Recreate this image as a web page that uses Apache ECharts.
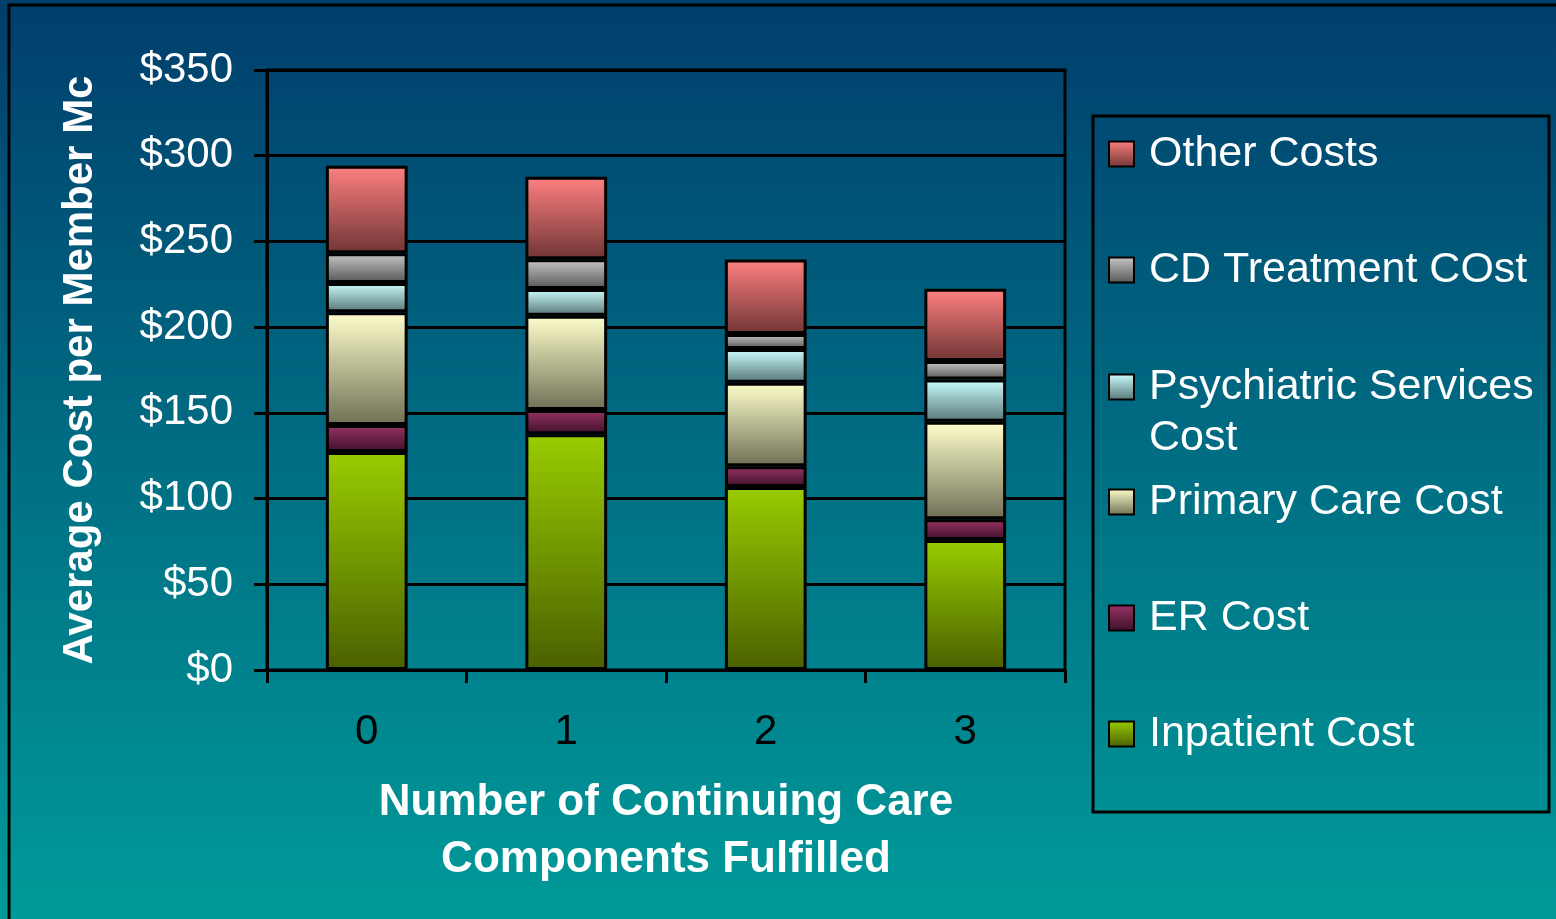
<!DOCTYPE html>
<html>
<head>
<meta charset="utf-8">
<script src="https://cdn.jsdelivr.net/npm/echarts@6/dist/echarts.min.js"></script>
<style>
html,body{margin:0;padding:0;width:1556px;height:919px;overflow:hidden;}
#chart{width:1556px;height:919px;}
</style>
</head>
<body>
<div id="chart"></div>
<script>
// ---- data ----
const categories = ['0', '1', '2', '3'];
const inpatientCost = [127.2, 137.5, 106.7, 75.8];
const erCost = [15.7, 14.1, 12.1, 12.2];
const primaryCareCost = [65.8, 55.1, 48.8, 56.8];
const psychiatricCost = [17.1, 15.6, 19.6, 24.6];
const cdTreatmentCost = [17.3, 17.3, 8.8, 10.8];
const otherCosts = [51.1, 48.1, 43.5, 42.2];
const yMin = 0, yMax = 350, yStep = 50;

// ---- styling ----
const FONT = 'Liberation Sans, Arial, sans-serif';
function grad(top, bottom) {
  return { type: 'linear', x: 0, y: 0, x2: 0, y2: 1,
    colorStops: [{ offset: 0, color: top }, { offset: 1, color: bottom }] };
}
const seriesDefs = [
  { name: 'Inpatient Cost', data: inpatientCost, color: grad('#99cc00', '#4a6000') },
  { name: 'ER Cost', data: erCost, color: grad('#993366', '#3d1028') },
  { name: 'Primary Care Cost', data: primaryCareCost, color: grad('#ffffcc', '#6f6f55') },
  { name: 'Psychiatric Services Cost', data: psychiatricCost, color: grad('#ccffff', '#567575') },
  { name: 'CD Treatment COst', data: cdTreatmentCost, color: grad('#c8c8c8', '#555555') },
  { name: 'Other Costs', data: otherCosts, color: grad('#ff8080', '#703535') }
];

const legendOrder = ['Other Costs', 'CD Treatment COst', 'Psychiatric Services Cost',
  'Primary Care Cost', 'ER Cost', 'Inpatient Cost'];
const legendCenters = [154, 270, 387, 502, 618, 734];
const LH = 51;

const legends = legendOrder.map((name, i) => {
  const multi = name === 'Psychiatric Services Cost';
  return {
    show: true,
    data: [name],
    left: 1108,
    top: multi ? legendCenters[i] - LH * 1.5 : legendCenters[i] - LH / 2,
    padding: 0,
    icon: 'rect',
    itemWidth: 25,
    itemHeight: 25,
    selectedMode: false,
    formatter: multi ? '\nPsychiatric Services\nCost' : '{name}',
    textStyle: { color: '#ffffff', fontSize: 43, fontFamily: FONT, lineHeight: LH, padding: [0, 0, 0, 10] }
  };
});

const chart = echarts.init(document.getElementById('chart'));
chart.setOption({
  backgroundColor: { type: 'linear', x: 0, y: 0, x2: 0, y2: 1,
    colorStops: [{ offset: 0, color: '#003e6c' }, { offset: 0.5, color: '#006e84' }, { offset: 1, color: '#009a99' }] },
  animation: false,
  textStyle: { fontFamily: FONT },
  graphic: [
    { type: 'rect', shape: { x: 9, y: 5, width: 1600, height: 1000 },
      style: { fill: 'none', stroke: '#000', lineWidth: 3 }, silent: true },
    { type: 'rect', shape: { x: 1093, y: 116, width: 456, height: 696 },
      style: { fill: 'none', stroke: '#000', lineWidth: 3 }, silent: true }
  ],
  legend: legends,
  grid: { left: 267, right: 491, top: 70, bottom: 249, show: true,
    borderColor: '#000', borderWidth: 3, backgroundColor: 'transparent' },
  xAxis: {
    type: 'category',
    data: categories,
    axisLine: { lineStyle: { color: '#000', width: 3 } },
    axisTick: { show: true, length: 13, lineStyle: { color: '#000', width: 3 } },
    axisLabel: { color: '#000', fontSize: 42, fontFamily: FONT, margin: 41 },
    name: 'Number of Continuing Care\nComponents Fulfilled',
    nameLocation: 'middle',
    nameGap: 104,
    nameTextStyle: { color: '#fff', fontSize: 44, fontWeight: 'bold', fontFamily: FONT, lineHeight: 57 }
  },
  yAxis: {
    type: 'value',
    min: yMin, max: yMax, interval: yStep,
    axisLine: { show: true, lineStyle: { color: '#000', width: 3 } },
    axisTick: { show: true, length: 13, lineStyle: { color: '#000', width: 3 } },
    splitLine: { show: true, lineStyle: { color: '#000', width: 3 } },
    axisLabel: { color: '#fff', fontSize: 42, fontFamily: FONT, margin: 34,
      padding: [4, 0, 0, 0], formatter: v => '$' + v },
    name: 'Average Cost per Member Mc',
    nameLocation: 'middle',
    nameGap: 166,
    nameTextStyle: { color: '#fff', fontSize: 42, fontWeight: 'bold', fontFamily: FONT }
  },
  series: seriesDefs.map(s => ({
    name: s.name,
    type: 'bar',
    stack: 'total',
    data: s.data,
    barWidth: '41%',
    itemStyle: { color: s.color, borderColor: '#000', borderWidth: 3 }
  }))
});
</script>
</body>
</html>
